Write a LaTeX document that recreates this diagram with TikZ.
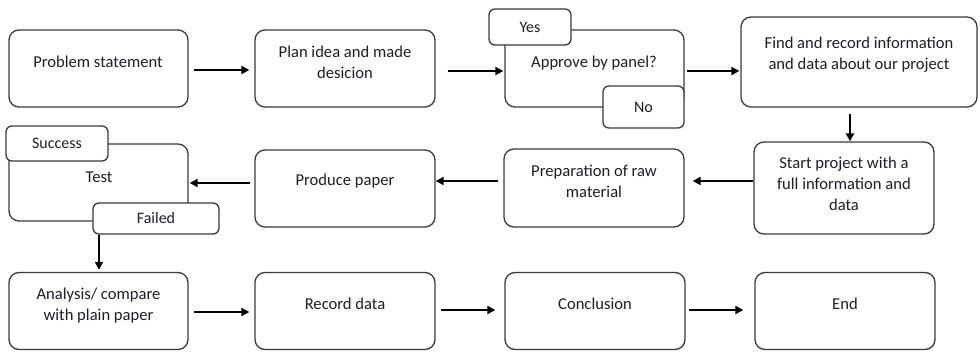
\documentclass[tikz,border=0pt]{standalone}
\usepackage{fontspec}
\setmainfont{Carlito}
\usetikzlibrary{arrows.meta,calc}
\definecolor{edge}{HTML}{3A3A3A}
\definecolor{ink}{HTML}{1E1E28}
\begin{document}
\begin{tikzpicture}[x=1pt,y=-1pt,
  box/.style={draw=edge,line width=1.3pt,rounded corners=10pt,fill=white,inner sep=0pt},
  tag/.style={draw=edge,line width=1.3pt,rounded corners=6pt,fill=white,inner sep=0pt,text=ink,font=\fontsize{16}{19}\selectfont},
  txt/.style={text=ink,align=center,inner sep=0pt,font=\fontsize{16.6}{21}\selectfont},
  arr/.style={line width=2.7pt,-{Triangle[length=8pt,width=8pt]}}]
\path[use as bounding box] (0,0) rectangle (980,351);
% row 1
\node[box,minimum width=179pt,minimum height=77pt] (p) at (98.5,68.5) {};
\node[txt] (pt) at (98,62) {Problem statement};
\node[box,minimum width=180pt,minimum height=77pt] (q) at (345,68.5) {};
\node[txt] (qt) at (345,62) {Plan idea and made\\desicion};
\node[box,minimum width=179pt,minimum height=77pt] (a) at (594.5,68.5) {};
\node[txt] (at) at (594,63) {Approve by panel?};
\node[tag,minimum width=82pt,minimum height=36pt] (yes) at (530,27) {Yes};
\node[tag,minimum width=81pt,minimum height=42pt] (no) at (643.5,107) {No};
\node[box,minimum width=236pt,minimum height=90pt] (f) at (859,62) {};
\node[txt] (ft) at (859,55) {Find and record information\\and data about our project};
% row 2
\node[box,minimum width=180pt,minimum height=92pt] (s) at (844,188) {};
\node[txt] (st) at (844,184) {Start project with a\\full information and\\data};
\node[box,minimum width=180pt,minimum height=78pt] (r) at (594,188) {};
\node[txt] (rt) at (594,181.5) {Preparation of raw\\material};
\node[box,minimum width=180pt,minimum height=77pt] (pp) at (345,188.5) {};
\node[txt] (ppt) at (345,181) {Produce paper};
\node[box,minimum width=179pt,minimum height=77pt] (t) at (98.5,182.5) {};
\node[txt] (tt) at (99,177) {Test};
\node[tag,minimum width=102pt,minimum height=35pt] (suc) at (57,143.5) {Success};
\node[tag,minimum width=126pt,minimum height=31pt] (fail) at (156,218.5) {Failed};
% row 3
\node[box,minimum width=179pt,minimum height=77pt] (an) at (98.5,311) {};
\node[txt] (ant) at (98.5,305.5) {Analysis/ compare\\with plain paper};
\node[box,minimum width=180pt,minimum height=77pt] (rd) at (345,311) {};
\node[txt] (rdt) at (345,304) {Record data};
\node[box,minimum width=180pt,minimum height=77pt] (cn) at (595,311) {};
\node[txt] (cnt) at (595,304) {Conclusion};
\node[box,minimum width=180pt,minimum height=77pt] (en) at (845,311) {};
\node[txt] (ent) at (845,304) {End};
% arrows
\draw[arr] ($(p.east)+(5,1.5)$) -- ($(q.west)+(-5,1.5)$);
\draw[arr] ($(q.east)+(12,2.5)$) -- ($(a.west)+(-1,2.5)$);
\draw[arr] ($(a.east)+(2,2.5)$) -- ($(f.west)+(-1,9)$);
\draw[arr] ($(f.south)+(-9,6)$) -- ($(s.north)+(6,0)$);
\draw[arr] ($(s.west)+(0,-7)$) -- ($(r.east)+(8,-7)$);
\draw[arr] ($(r.west)+(-5,-7)$) -- ($(pp.east)+(0,-7.5)$);
\draw[arr] ($(pp.west)+(-4,-5.5)$) -- ($(t.east)+(1,0.5)$);
\draw[arr] ($(fail.south)+(-57,0)$) -- ($(an.north)+(0.5,-2)$);
\draw[arr] ($(an.east)+(5,1)$) -- ($(rd.west)+(-5,1)$);
\draw[arr] ($(rd.east)+(5,-1)$) -- ($(cn.west)+(-9,-1)$);
\draw[arr] ($(cn.east)+(3,-1)$) -- ($(en.west)+(-11,-1)$);
\end{tikzpicture}
\end{document}
